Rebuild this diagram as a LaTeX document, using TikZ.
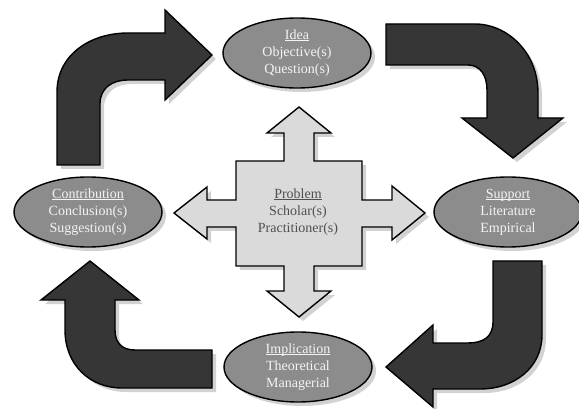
\documentclass[tikz,border=0pt]{standalone}
\usepackage{fontspec}
\setmainfont{Liberation Serif}
\usetikzlibrary{shapes.geometric,shadows}

\definecolor{arrowdark}{HTML}{363636}
\definecolor{ovalgray}{HTML}{8C8C8C}
\definecolor{crossgray}{HTML}{DADADA}
\definecolor{shadowgray}{HTML}{D2D2D2}
\definecolor{ovaltext}{HTML}{F4F4F4}
\definecolor{crosstext}{HTML}{505050}

% heading word, underlined just below the baseline whatever its descenders
\newcommand\headword[1]{\underline{\vphantom{I}\smash{#1}}}

\tikzset{
  softshadow/.style={general shadow={shadow xshift=4pt,shadow yshift=-4pt,fill=shadowgray}},
  bentarrow/.style={fill=arrowdark,draw=black,line width=1.4pt,line join=miter,softshadow},
  stage/.style={ellipse,draw=black,line width=1.4pt,fill=ovalgray,softshadow,
    minimum width=148pt,minimum height=70pt,inner sep=0pt,align=center,
    text=ovaltext,font=\fontsize{14}{17}\selectfont},
  hub/.style={fill=crossgray,draw=black,line width=1.4pt,line join=miter,softshadow},
  hubtext/.style={align=center,text=crosstext,font=\fontsize{14}{17}\selectfont,inner sep=0pt}
}

\begin{document}
\begin{tikzpicture}[x=1pt,y=-1pt]
\useasboundingbox (0,0) rectangle (579,409);

% central four-way arrow
\draw[hub] (299,107) -- (331,133) -- (314,133) -- (314,161) -- (362,161) -- (362,200)
  -- (392,200) -- (392,186) -- (425,213) -- (392,240) -- (392,227) -- (362,227)
  -- (362,266) -- (314,266) -- (314,291) -- (331,291) -- (299,317) -- (267,291)
  -- (284,291) -- (284,266) -- (236,266) -- (236,227) -- (207,227) -- (207,239)
  -- (174,213) -- (207,187) -- (207,200) -- (236,200) -- (236,161) -- (284,161)
  -- (284,133) -- (267,133) -- cycle;
\node[hubtext] (problem) at (298,212) {\headword{Problem}\\Scholar(s)\\Practitioner(s)};

% bent arrows around the cycle
\draw[bentarrow] (57,165) -- (57,92) .. controls (57,55) and (90,33) .. (128,33)
  -- (165,33) -- (165,10) -- (212,55) -- (165,100) -- (165,80) -- (128,80)
  .. controls (112,80) and (100,88) .. (100,104) -- (100,165) -- cycle;

\draw[bentarrow] (386,24) -- (475,24) .. controls (507,24) and (538,52) .. (538,93)
  -- (538,118) -- (563,118) -- (513,158) -- (462,118) -- (487,118) -- (487,90)
  .. controls (487,75) and (480,65) .. (468,65) -- (386,65) -- cycle;

\draw[bentarrow] (493,261) -- (542,261) -- (542,335) .. controls (542,367) and (515,389) .. (480,389)
  -- (433,389) -- (433,407) -- (386,367) -- (433,325) -- (433,343) -- (468,343)
  .. controls (483,343) and (493,337) .. (493,322) -- cycle;

\draw[bentarrow] (212,350) -- (212,388) -- (122,388) .. controls (90,388) and (65,365) .. (65,330)
  -- (65,300) -- (41,300) -- (90,261) -- (139,300) -- (115,300) -- (115,330)
  .. controls (115,343) and (122,350) .. (135,350) -- cycle;

% the four stages
\node[stage] (idea) at (297,53) {\headword{Idea}\\Objective(s)\\Question(s)};
\node[stage] (support) at (508,212) {\headword{Support}\\Literature\\Empirical};
\node[stage] (implication) at (298,367) {\headword{Implication}\\Theoretical\\Managerial};
\node[stage] (contribution) at (88,212) {\headword{Contribution}\\Conclusion(s)\\Suggestion(s)};
\end{tikzpicture}
\end{document}
